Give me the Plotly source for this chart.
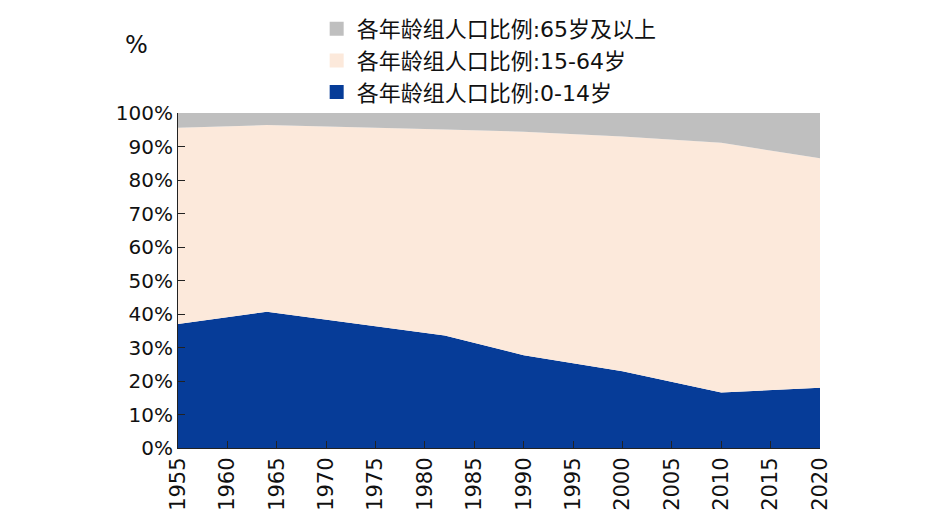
import plotly.graph_objects as go

years = [1955, 1964, 1982, 1990, 2000, 2010, 2020]
share_0_14 = [37.0, 40.7, 33.6, 27.7, 22.9, 16.6, 17.95]
share_15_64 = [58.6, 55.7, 61.5, 66.7, 70.1, 74.5, 68.55]
share_65 = [4.4, 3.6, 4.9, 5.6, 7.0, 8.9, 13.5]

names = ["各年龄组人口比例:0-14岁", "各年龄组人口比例:15-64岁", "各年龄组人口比例:65岁及以上"]
colors = ["#063C98", "#FCE9DB", "#BFBFBF"]

fig = go.Figure()
for name, vals, c in zip(names, [share_0_14, share_15_64, share_65], colors):
    fig.add_trace(
        go.Scatter(
            x=years,
            y=[v / 100 for v in vals],
            name=name,
            mode="lines",
            stackgroup="one",
            line=dict(width=0, color=c),
            fillcolor=c,
            showlegend=False,
        )
    )

# legend entries with square markers
for name, c in zip(names, colors):
    fig.add_trace(
        go.Scatter(
            x=[None],
            y=[None],
            name=name,
            mode="markers",
            marker=dict(symbol="square", size=14, color=c),
        )
    )

font_family = "DejaVu Sans, Noto Sans CJK SC"

fig.update_layout(
    width=925,
    height=531,
    plot_bgcolor="white",
    paper_bgcolor="white",
    margin=dict(l=170, r=113, t=105, b=91),
    font=dict(family=font_family, size=20, color="#111111"),
    legend=dict(
        traceorder="reversed",
        x=0.216,
        y=1.0,
        xanchor="left",
        yanchor="top",
        yref="container",
        font=dict(size=22, color="#111111"),
        bgcolor="rgba(0,0,0,0)",
    ),
    annotations=[
        dict(
            text="%",
            x=-0.064,
            y=1.203,
            xref="paper",
            yref="paper",
            xanchor="center",
            yanchor="middle",
            showarrow=False,
            font=dict(size=24),
        )
    ],
)

fig.update_xaxes(
    range=[1955, 2020],
    tickvals=list(range(1955, 2021, 5)),
    tickangle=-90,
    ticks="inside",
    ticklen=7,
    tickcolor="#222222",
    showline=True,
    linecolor="#222222",
    linewidth=1,
    showgrid=False,
    zeroline=False,
    automargin=False,
    tickfont=dict(size=21),
)
fig.update_yaxes(
    range=[0, 1],
    dtick=0.1,
    tickformat=".0%",
    ticks="inside",
    ticklen=7,
    tickcolor="#222222",
    showline=True,
    linecolor="#222222",
    linewidth=1,
    showgrid=False,
    zeroline=False,
    automargin=False,
    tickfont=dict(size=20),
)

fig.write_html("out.html")
